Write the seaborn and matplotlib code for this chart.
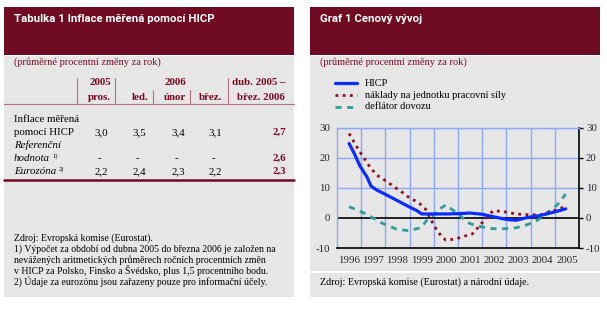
import numpy as np
import pandas as pd
import matplotlib
matplotlib.use("Agg")
import matplotlib.pyplot as plt
from matplotlib.patches import Rectangle
from matplotlib.lines import Line2D
import seaborn as sns

# ---------------- data ----------------
table_cols_top = ["2005", "2006", "dub. 2005 –"]
table_cols_bottom = ["pros.", "led.", "únor", "břez.", "břez. 2006"]
row_hicp = ["3,0", "3,5", "3,4", "3,1", "2,7"]
row_ref = ["-", "-", "-", "-", "2,6"]
row_euro = ["2,2", "2,4", "2,3", "2,2", "2,3"]

year_labels = [1996, 1997, 1998, 1999, 2000, 2001, 2002, 2003, 2004, 2005]

hicp_x = [1996.0, 1996.2, 1996.45, 1996.75, 1996.9, 1997.15, 1997.55, 1998.0, 1998.45,
          1998.8, 1999.0, 1999.5, 2000.0, 2000.5, 2001.0, 2001.5, 2002.0, 2002.5,
          2002.9, 2003.35, 2003.9, 2004.45, 2004.95]
hicp_y = [24.7, 21.6, 17.2, 13.4, 10.6, 9.2, 7.6, 5.7, 3.8, 2.4, 1.3, 1.3, 1.3, 1.4,
          1.6, 1.2, 0.3, -0.5, -0.8, 0.1, 0.8, 1.9, 3.0]

ulc_x = [1996.0, 1996.38, 1996.6, 1996.93, 1997.2, 1997.55, 1997.9, 1998.25, 1998.5,
         1998.85, 1999.15, 1999.35, 1999.55, 1999.8, 2000.0, 2000.4, 2000.8, 2001.1,
         2001.4, 2001.7, 2001.95, 2002.35, 2002.9, 2003.5, 2004.0, 2004.45, 2004.85, 2004.95]
ulc_y = [28.0, 22.7, 20.0, 16.1, 13.9, 12.1, 10.1, 8.2, 6.6, 5.2, 3.0, -0.1, -3.1, -6.0,
         -7.4, -7.0, -6.0, -5.3, -2.5, 0.2, 2.4, 2.1, 1.3, 1.0, 1.1, 2.4, 3.5, 3.2]

defl_x = [1996.0, 1996.4, 1996.75, 1997.0, 1997.35, 1997.65, 1998.0, 1998.45, 1998.8,
          1999.0, 1999.2, 1999.55, 1999.75, 2000.0, 2000.3, 2000.6, 2000.85, 2001.2,
          2001.55, 2001.95, 2002.4, 2002.9, 2003.35, 2003.75, 2004.0, 2004.3, 2004.6, 2004.95]
defl_y = [3.7, 2.4, 1.1, -0.1, -1.7, -2.7, -3.9, -4.2, -3.6, -3.1, -0.9, 1.3, 3.0, 4.3,
          2.5, 0.8, -1.4, -2.5, -3.1, -3.6, -3.6, -3.3, -2.3, -0.9, 0.4, 2.4, 4.3, 7.9]

series_names = ["HICP", "náklady na jednotku pracovní síly", "deflátor dovozu"]

# ---------------- style ----------------
sns.set_style("white")
plt.rcParams["font.family"] = ["Liberation Serif", "DejaVu Serif"]

W, H = 607, 324
fig = plt.figure(figsize=(W / 100, H / 100), dpi=100)
fig.patch.set_facecolor("white")

def fx(px):
    return px / W

def fy(py):
    return 1 - py / H

MAROON = "#6f0b22"
GRAY = "#e6e6e6"
HEAD = "#7a0a22"
SEP = "#b8707e"
TITLE_FONT = ["Roboto", "DejaVu Sans"]

def rect(x0, y0, x1, y1, color):
    fig.add_artist(Rectangle((fx(x0), fy(y1)), fx(x1) - fx(x0), fy(y0) - fy(y1),
                             transform=fig.transFigure, facecolor=color,
                             edgecolor="none", zorder=0))

def hline(x0, x1, y, color, lw):
    fig.add_artist(Line2D([fx(x0), fx(x1)], [fy(y), fy(y)], transform=fig.transFigure,
                          color=color, lw=lw))

def vline(x, y0, y1, color, lw):
    fig.add_artist(Line2D([fx(x), fx(x)], [fy(y0), fy(y1)], transform=fig.transFigure,
                          color=color, lw=lw))

def txt(x, y, s, ha="left", va="center", **kw):
    return fig.text(fx(x), fy(y), s, ha=ha, va=va, **kw)

renderer = fig.canvas.get_renderer()

def sup_after(t, y, s):
    bb = t.get_window_extent(renderer=renderer)
    txt(bb.x1 + 2.5, y, s, fontsize=4.8, color="black")

# ---------------- left panel (table) ----------------
rect(4, 7, 294, 54.5, MAROON)
rect(4, 56, 294, 297, GRAY)
txt(14, 19.5, "Tabulka 1 Inflace měřená pomocí HICP", color="white", fontsize=8.2,
    fontweight="bold", family=TITLE_FONT)
txt(14, 62.5, "(průměrné procentní změny za rok)", color=HEAD, fontsize=7.5)

hfs = 7.8
txt(111, 82.5, table_cols_top[0], ha="right", color=HEAD, fontsize=hfs, fontweight="bold")
txt(175, 82.5, table_cols_top[1], ha="center", color=HEAD, fontsize=hfs, fontweight="bold")
txt(285, 82.5, table_cols_top[2], ha="right", color=HEAD, fontsize=hfs, fontweight="bold")
col_right = [111, 148.5, 186, 222.5, 285]
for xr, s in zip(col_right, table_cols_bottom):
    txt(xr, 97, s, ha="right", color=HEAD, fontsize=hfs, fontweight="bold")

for x in (76.7, 115, 227.7):
    vline(x, 78, 104, SEP, 0.8)
for x in (152.7, 190):
    vline(x, 90, 104, SEP, 0.8)
hline(4, 294, 104, SEP, 0.8)

vfs = 7.8
val_right = [108.5, 146, 185, 222, 286]
txt(14, 120, "Inflace měřená", fontsize=vfs, color="black")
txt(14, 132.5, "pomocí HICP", fontsize=vfs, color="black")
for i, (xr, s) in enumerate(zip(val_right, row_hicp)):
    last = i == len(row_hicp) - 1
    txt(xr, 132.5, s, ha="right", fontsize=vfs, color=HEAD if last else "black",
        fontweight="bold" if last else "normal")
txt(14, 145, "Referenční", fontsize=vfs, style="italic", color="black")
t_h = txt(14, 158.5, "hodnota", fontsize=vfs, style="italic", color="black")
sup_after(t_h, 156, "1)")
for i, (xr, s) in enumerate(zip(val_right, row_ref)):
    last = i == len(row_ref) - 1
    txt(xr - (0 if last else 7), 158.5, s, ha="right", fontsize=vfs,
        color=HEAD if last else "black", fontweight="bold" if last else "normal")
t_e = txt(14, 171.5, "Eurozóna", fontsize=vfs, style="italic", color="black")
sup_after(t_e, 169, "2)")
for i, (xr, s) in enumerate(zip(val_right, row_euro)):
    last = i == len(row_euro) - 1
    txt(xr, 171.5, s, ha="right", fontsize=vfs, color=HEAD if last else "black",
        fontweight="bold" if last else "normal")
hline(4, 294, 180, MAROON, 1.8)

foot = ["Zdroj: Evropská komise (Eurostat).",
        "1) Výpočet za období od dubna 2005 do března 2006 je založen na",
        "nevážených aritmetických průměrech ročních procentních změn",
        "v HICP za Polsko, Finsko a Švédsko, plus 1,5 procentního bodu.",
        "2) Údaje za eurozónu jsou zařazeny pouze pro informační účely."]
for i, s in enumerate(foot):
    txt(13.5, 237.7 + i * 11, s, fontsize=7.0, color="black")

# ---------------- right panel (chart) ----------------
rect(310, 7, 600, 54.5, MAROON)
rect(310, 56, 600, 270.5, GRAY)
rect(310, 273, 600, 297, GRAY)
txt(320, 19.5, "Graf 1 Cenový vývoj", color="white", fontsize=8.2, fontweight="bold",
    family=TITLE_FONT)
txt(320, 62.5, "(průměrné procentní změny za rok)", color=HEAD, fontsize=7.5)
txt(320, 282.5, "Zdroj: Evropská komise (Eurostat) a národní údaje.", fontsize=7.3,
    color="black")

BLUE = "#0a2cff"
RED = "#9a0a14"
TEAL = "#2e9c9a"
GRID = "#8fa8ff"

ax = fig.add_axes([fx(337), fy(248), fx(579) - fx(337), fy(127.5) - fy(248)])
ax.set_facecolor("none")

df_h = pd.DataFrame({"x": hicp_x, "y": hicp_y})
df_u = pd.DataFrame({"x": ulc_x, "y": ulc_y})
df_d = pd.DataFrame({"x": defl_x, "y": defl_y})

sns.lineplot(data=df_d, x="x", y="y", ax=ax, color=TEAL, lw=2.0,
             linestyle=(0, (2.2, 2.0)), zorder=3)
sns.lineplot(data=df_u, x="x", y="y", ax=ax, color=RED, lw=2.0,
             linestyle=(0, (1.0, 1.6)), zorder=4)
sns.lineplot(data=df_h, x="x", y="y", ax=ax, color=BLUE, lw=2.3, zorder=5)

ax.set_xlim(1995.5, 2005.5)
ax.set_ylim(-10, 30)
ax.set_xlabel("")
ax.set_ylabel("")

ax.set_xticks(year_labels)
ax.set_xticklabels([str(y) for y in year_labels])
ax.set_xticks([y - 0.5 for y in year_labels] + [2005.5], minor=True)
ax.tick_params(axis="x", which="major", length=0, pad=5.5, labelsize=7.8)
ax.tick_params(axis="x", which="minor", length=4, width=1, direction="out",
               color="black")
ax.set_yticks([-10, 0, 10, 20, 30])
ax.set_yticklabels(["-10", "0", "10", "20", "30"])
ax.tick_params(axis="y", left=False, right=True, labelleft=True, labelright=True,
               length=3, width=1, direction="out", pad=2, labelsize=7.8, color="black")

for x in [y + 0.5 for y in year_labels[:-1]]:
    ax.axvline(x, color=GRID, lw=1.0, zorder=1)
for yv in (10, 20, 30):
    ax.axhline(yv, color=GRID, lw=1.0, zorder=1)
ax.axhline(0, color="black", lw=1.2, zorder=2)

for side in ("top", "left"):
    ax.spines[side].set_color(GRID)
    ax.spines[side].set_linewidth(1.0)
ax.spines["right"].set_color("black")
ax.spines["right"].set_linewidth(1.2)
ax.spines["bottom"].set_color("black")
ax.spines["bottom"].set_linewidth(1.2)

# legend
leg_styles = [dict(color=BLUE, lw=2.3, linestyle="-"),
              dict(color=RED, lw=2.0, linestyle=(0, (1.0, 1.6))),
              dict(color=TEAL, lw=2.0, linestyle=(0, (2.2, 2.0)))]
for i, (name, st) in enumerate(zip(series_names, leg_styles)):
    yy = 83.5 + i * 11.5
    fig.add_artist(Line2D([fx(335), fx(357)], [fy(yy), fy(yy)],
                          transform=fig.transFigure, **st))
    txt(365, yy, name, fontsize=7.5, color="black")

fig.savefig("out.png", dpi=100, facecolor="white")
